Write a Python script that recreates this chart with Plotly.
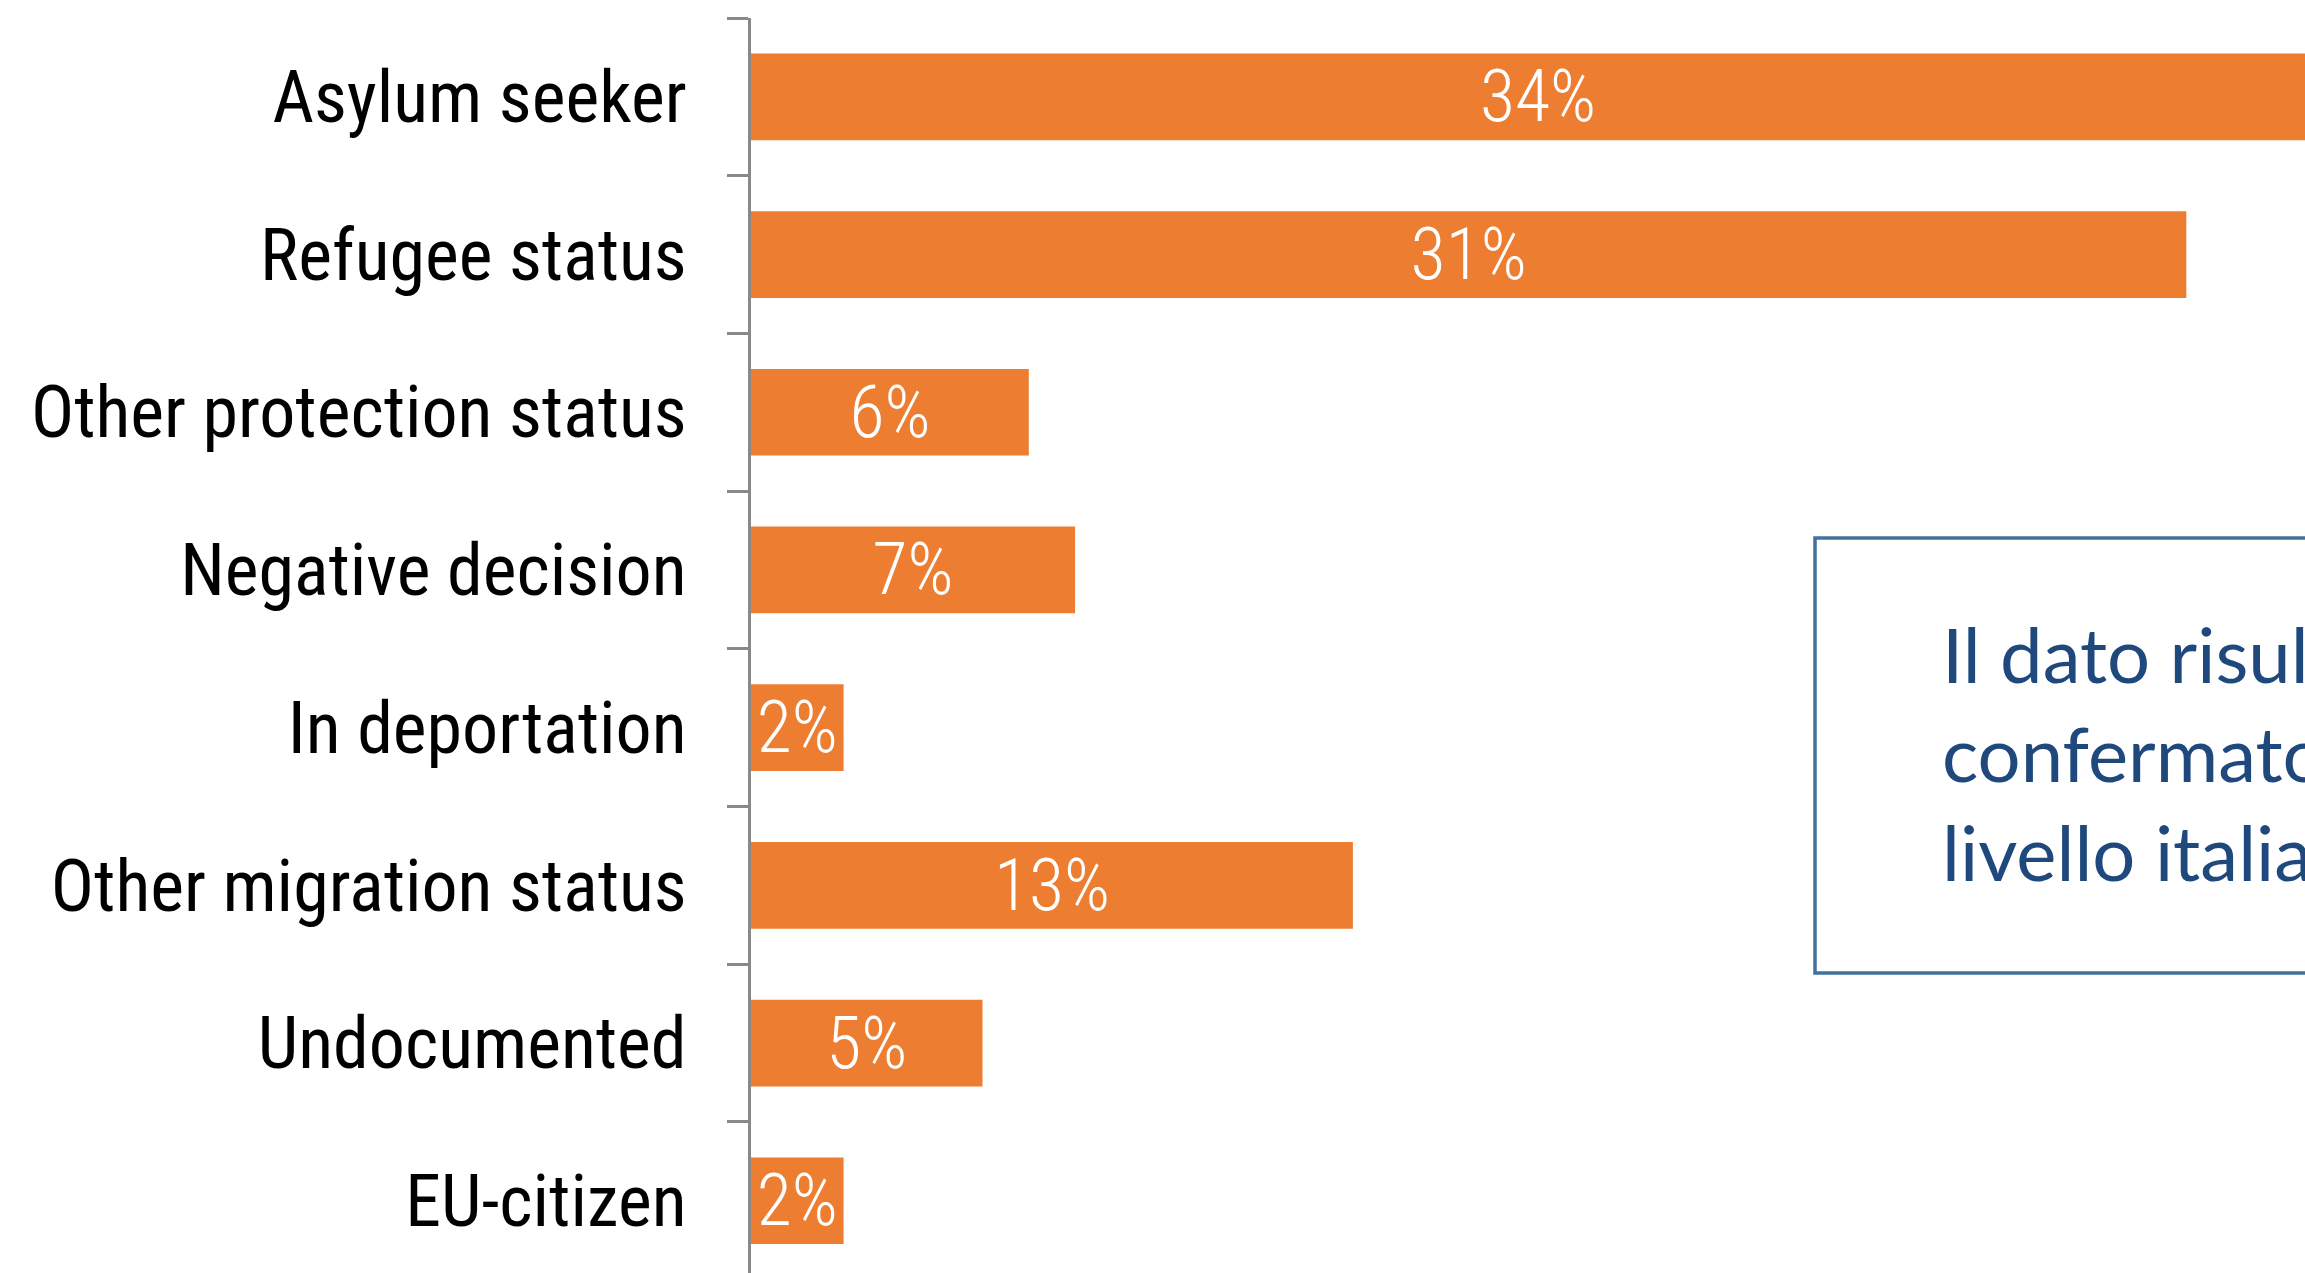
import plotly.graph_objects as go

categories = ["Asylum seeker", "Refugee status", "Other protection status", "Negative decision",
              "In deportation", "Other migration status", "Undocumented", "EU-citizen"]
values = [34, 31, 6, 7, 2, 13, 5, 2]
value_labels = ["34%", "31%", "6%", "7%", "2%", "13%", "5%", "2%"]
box_lines = ["Il dato risulta", "confermato anche a", "livello italiano"]

W, H = 2305, 1273
L, T = 751, 18
pw, ph = W - L, H - T

NARROW = "Roboto Condensed, Liberation Sans Narrow, DejaVu Sans Condensed, sans-serif"

fig = go.Figure(go.Bar(
    y=categories, x=values, orientation="h",
    marker=dict(color="#ED7D31", line=dict(width=0)),
    text=value_labels, textposition="inside", insidetextanchor="middle",
    constraintext="none", textangle=0,
    textfont=dict(family=NARROW, size=72, color="white", weight=300),
    cliponaxis=True,
))

fig.update_layout(
    width=W, height=H,
    margin=dict(l=L, r=0, t=T, b=0, pad=0),
    paper_bgcolor="white", plot_bgcolor="white",
    bargap=0.45, showlegend=False,
)
fig.update_xaxes(range=[0, pw / 46.3], visible=False, showgrid=False, zeroline=False)
fig.update_yaxes(
    categoryorder="array", categoryarray=categories,
    range=[-0.5 + ph / 157.7, -0.5],
    showline=True, linecolor="#898989", linewidth=3,
    ticks="outside", ticklen=21, tickwidth=3, tickcolor="#898989",
    tickson="boundaries", ticklabelstandoff=47,
    tickfont=dict(family=NARROW, size=72, color="#000000", weight=400),
    showgrid=False, zeroline=False, automargin=False,
)

def px_x(x):
    return (x - L) / pw

def px_y(y):
    return (H - y) / ph

fig.add_shape(type="rect", xref="paper", yref="paper",
              x0=px_x(1815), x1=px_x(2400), y0=px_y(973), y1=px_y(538),
              line=dict(color="#41719C", width=3.5), fillcolor="rgba(0,0,0,0)")

fig.add_annotation(xref="paper", yref="paper", x=px_x(1940), y=px_y(752),
                   xanchor="left", yanchor="middle", align="left", showarrow=False,
                   text="<br>".join(box_lines),
                   font=dict(family="Lato, Open Sans, sans-serif", size=76, color="#1F497D"))

fig.write_html("out.html", config={"displayModeBar": False},
               post_script="document.body.style.margin='0';document.body.style.overflow='hidden';")
